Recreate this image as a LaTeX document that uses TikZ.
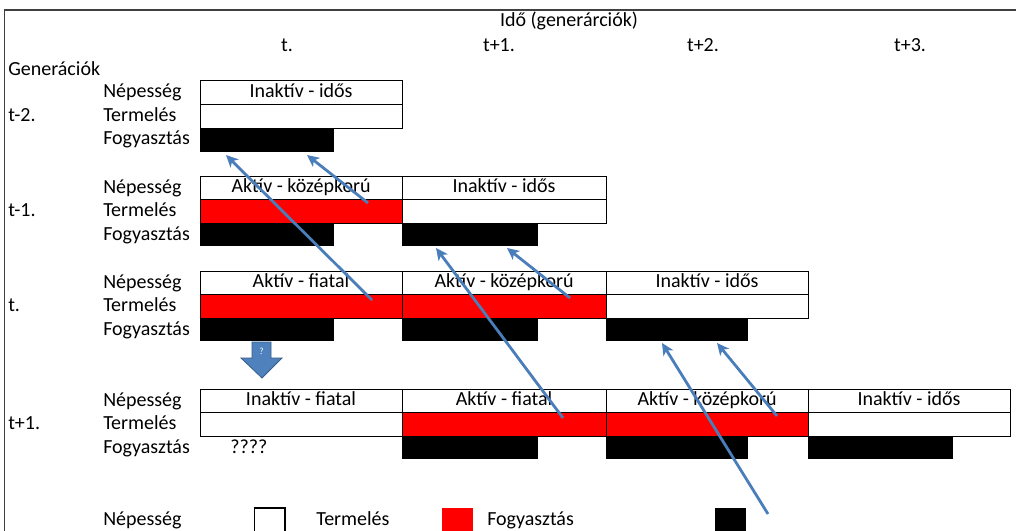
\documentclass[tikz,border=0pt]{standalone}
\usepackage{fontspec}
\setmainfont{Carlito}
\usetikzlibrary{arrows.meta}
\definecolor{arrowblue}{HTML}{4A7EBB}
\definecolor{blockblue}{HTML}{4F81BD}
\definecolor{blockedge}{HTML}{385D8A}
\definecolor{framegray}{HTML}{404040}
\begin{document}
\begin{tikzpicture}[x=0.75pt,y=-0.75pt,
  fnt/.style={font=\fontsize{15}{18}\selectfont},
  txt/.style={fnt, anchor=west, inner sep=0pt, text height=0.8em, text depth=0.05em},
  ctxt/.style={fnt, anchor=center, inner sep=0pt, text height=0.8em, text depth=0.05em},
  cell/.style={fnt, draw=black, line width=0.75pt, anchor=north west, minimum height=17.75pt, inner sep=0pt, outer sep=0pt, text height=0.8em, text depth=0.05em},
  popc/.style={cell, fill=white},
  prodc/.style={cell, fill=red},
  consc/.style={fill=black, anchor=north west, minimum height=17.5pt, inner sep=0pt, outer sep=0pt},
  conn/.style={draw=arrowblue, line width=2.1pt, -{Stealth[length=9pt,width=8.5pt,inset=2.5pt]}},
  legbox/.style={draw=black, line width=1.3pt, anchor=north west, minimum width=23pt, minimum height=25pt, inner sep=0pt}
]
\clip (0,0) rectangle (1016,531);
\fill[white] (0,0) rectangle (1016,531);
% frame
\draw[framegray, line width=1.2pt] (1040,10) -- (4.5,10) -- (4.5,560);

% header
\node[ctxt] (ido) at (569,22) {Idő (generárciók)};
\node[ctxt] (ht) at (287,47) {t.};
\node[ctxt] (ht1) at (499,47) {t+1.};
\node[ctxt] (ht2) at (703,47) {t+2.};
\node[ctxt] (ht3) at (910,47) {t+3.};
\node[txt] (gen) at (8,71) {Generációk};

% ---------- group t-2 ----------
\node[txt] (l1a) at (103,93) {Népesség};
\node[txt] (l1b) at (103,116.5) {Termelés};
\node[txt] (l1c) at (103,140) {Fogyasztás};
\node[txt] (g1) at (8,116.5) {t-2.};
\node[popc, minimum width=151.5pt] (g1p0) at (200,81) {Inaktív - idős};
\node[popc, minimum width=151.5pt] (g1q0) at (200,105) {};
\node[consc, minimum width=100.5pt] (g1c0) at (200,129) {};

% ---------- group t-1 ----------
\node[txt] (l2a) at (103,188) {Népesség};
\node[txt] (l2b) at (103,211.5) {Termelés};
\node[txt] (l2c) at (103,235) {Fogyasztás};
\node[txt] (g2) at (8,211.5) {t-1.};
\node[popc, minimum width=151.5pt] (g2p0) at (200,176) {Aktív - középkorú};
\node[prodc, minimum width=151.5pt] (g2q0) at (200,199.5) {};
\node[consc, minimum width=100.5pt] (g2c0) at (200,223) {};
\node[popc, minimum width=153pt] (g2p1) at (402,176) {Inaktív - idős};
\node[popc, minimum width=153pt] (g2q1) at (402,199.5) {};
\node[consc, minimum width=102pt] (g2c1) at (402,223) {};

% ---------- group t ----------
\node[txt] (l3a) at (103,283) {Népesség};
\node[txt] (l3b) at (103,306.5) {Termelés};
\node[txt] (l3c) at (103,330) {Fogyasztás};
\node[txt] (g3) at (8,306.5) {t.};
\node[popc, minimum width=151.5pt] (g3p0) at (200,271) {Aktív - fiatal};
\node[prodc, minimum width=151.5pt] (g3q0) at (200,294.5) {};
\node[consc, minimum width=100.5pt] (g3c0) at (200,318) {};
\node[popc, minimum width=153pt] (g3p1) at (402,271) {Aktív - középkorú};
\node[prodc, minimum width=153pt] (g3q1) at (402,294.5) {};
\node[consc, minimum width=102pt] (g3c1) at (402,318) {};
\node[popc, minimum width=151.5pt] (g3p2) at (606,271) {Inaktív - idős};
\node[popc, minimum width=151.5pt] (g3q2) at (606,294.5) {};
\node[consc, minimum width=106.5pt] (g3c2) at (606,318) {};

% block arrow
\filldraw[fill=blockblue, draw=blockedge, line width=0.6pt]
  (252,342) -- (271,342) -- (271,358) -- (282,358) -- (262,378) -- (241,358) -- (252,358) -- cycle;
\node[inner sep=0pt, text=white, font=\fontsize{7}{8}\selectfont] (q) at (261.5,351) {?};

% ---------- group t+1 ----------
\node[txt] (l4a) at (103,401) {Népesség};
\node[txt] (l4b) at (103,424.5) {Termelés};
\node[txt] (l4c) at (103,448) {Fogyasztás};
\node[txt] (g4) at (8,424.5) {t+1.};
\node[popc, minimum width=151.5pt] (g4p0) at (200,389) {Inaktív - fiatal};
\node[popc, minimum width=151.5pt] (g4q0) at (200,412.5) {};
\node[ctxt] (g4c0) at (249,448) {????};
\node[popc, minimum width=153pt] (g4p1) at (402,389) {Aktív - fiatal};
\node[prodc, minimum width=153pt] (g4q1) at (402,412.5) {};
\node[consc, minimum width=102pt] (g4c1) at (402,436) {};
\node[popc, minimum width=151.5pt] (g4p2) at (606,389) {Aktív - középkorú};
\node[prodc, minimum width=151.5pt] (g4q2) at (606,412.5) {};
\node[consc, minimum width=106.5pt] (g4c2) at (606,436) {};
\node[popc, minimum width=151.5pt] (g4p3) at (808,389) {Inaktív - idős};
\node[popc, minimum width=151.5pt] (g4q3) at (808,412.5) {};
\node[consc, minimum width=108.75pt] (g4c3) at (808,436) {};

% ---------- legend ----------
\node[txt] (lg1) at (103,520) {Népesség};
\node[legbox, fill=white] (lb1) at (253.5,507) {};
\node[txt] (lg2) at (316,520) {Termelés};
\node[legbox, draw=none, fill=red] (lb2) at (441,507) {};
\node[txt] (lg3) at (487,520) {Fogyasztás};
\node[legbox, draw=none, fill=black] (lb3) at (714,507) {};

% ---------- connectors ----------
\coordinate (a1s) at (372,300); \coordinate (a1e) at (226,155);
\coordinate (a2s) at (368,203); \coordinate (a2e) at (307,155);
\coordinate (a3s) at (563,418); \coordinate (a3e) at (436,248);
\coordinate (a4s) at (570,298); \coordinate (a4e) at (507,248);
\coordinate (a5s) at (768,514); \coordinate (a5e) at (662,343);
\coordinate (a6s) at (777,416); \coordinate (a6e) at (717,343);
\draw[conn] (a1s) -- (a1e);
\draw[conn] (a2s) -- (a2e);
\draw[conn] (a3s) -- (a3e);
\draw[conn] (a4s) -- (a4e);
\draw[conn] (a5s) -- (a5e);
\draw[conn] (a6s) -- (a6e);
\end{tikzpicture}
\end{document}
